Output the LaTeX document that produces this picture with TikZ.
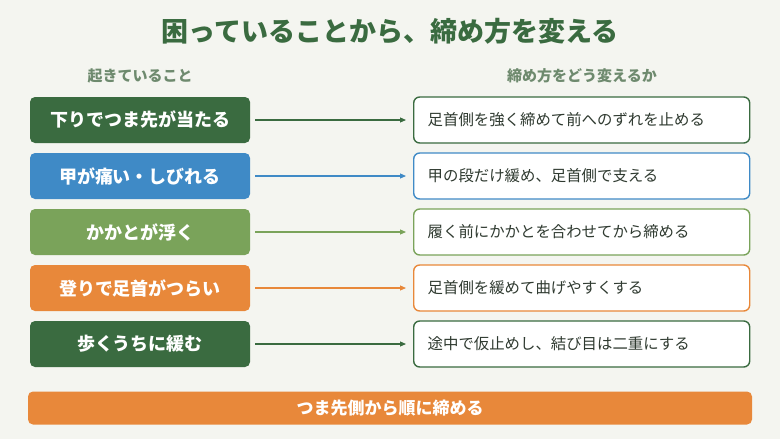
\documentclass[tikz,border=0pt]{standalone}
\usepackage{fontspec}
\newfontfamily\cjk{Noto Sans CJK JP}
\usetikzlibrary{arrows.meta}
\definecolor{bg}{HTML}{F4F5F0}
\definecolor{dg}{HTML}{3A6B40}
\definecolor{bl}{HTML}{3F8AC6}
\definecolor{lg}{HTML}{7AA35A}
\definecolor{og}{HTML}{E8883A}
\definecolor{tx}{HTML}{2F3A30}
\definecolor{hd}{HTML}{6E8A6E}
\begin{document}
\begin{tikzpicture}[x=1pt,y=-1pt,font=\cjk,
 lbox/.style={rounded corners=5pt,minimum width=220pt,minimum height=46pt,text=white,font=\cjk\fontsize{18}{20}\selectfont\bfseries,inner sep=0pt},
 rbox/.style={rounded corners=6pt,draw,line width=1.4pt,fill=white,minimum width=336pt,minimum height=46pt,text=tx,font=\cjk\fontsize{15.4}{18}\selectfont,inner xsep=14pt,inner ysep=0pt},
 arr/.style={-{Triangle[length=6pt,width=5pt]},line width=1.1pt}]
\fill[bg] (0,0) rectangle (780,439);
\node[text=dg,font=\cjk\fontsize{27}{30}\selectfont\bfseries] (t) at (390,31) {困っていることから、締め方を変える};
\node[text=hd,font=\cjk\fontsize{15}{17}\selectfont\bfseries] (h1) at (140,76) {起きていること};
\node[text=hd,font=\cjk\fontsize{15}{17}\selectfont\bfseries] (h2) at (582,76) {締め方をどう変えるか};
\foreach \i/\c/\a/\b in {1/dg/下りでつま先が当たる/足首側を強く締めて前へのずれを止める,
 2/bl/甲が痛い・しびれる/甲の段だけ緩め、足首側で支える,
 3/lg/かかとが浮く/履く前にかかとを合わせてから締める,
 4/og/登りで足首がつらい/足首側を緩めて曲げやすくする,
 5/dg/歩くうちに緩む/途中で仮止めし、結び目は二重にする}{
 \pgfmathsetmacro\yy{120+(\i-1)*56}
 \node[lbox,fill=\c] (l\i) at (140,\yy) {\a};
 \node[rbox,draw=\c,anchor=west,text width=308pt,align=left] (r\i) at (413,\yy) {\b};
 \draw[arr,draw=\c,fill=\c] ([xshift=5pt]l\i.east) -- ([xshift=-7pt]r\i.west);
}
\node[fill=og,rounded corners=5pt,minimum width=724pt,minimum height=33pt,text=white,font=\cjk\fontsize{17}{19}\selectfont\bfseries,inner sep=0pt] (b) at (390,408) {つま先側から順に締める};
\end{tikzpicture}
\end{document}
